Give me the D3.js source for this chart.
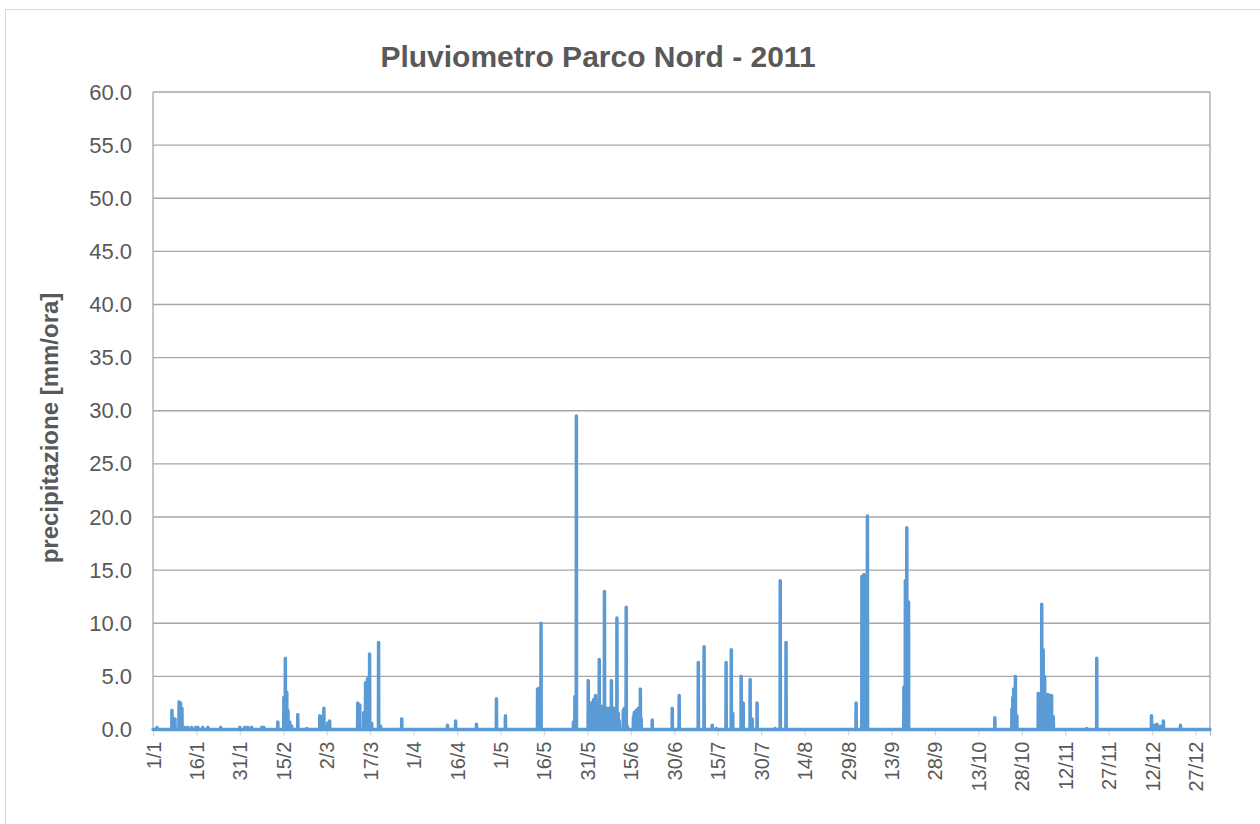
<!DOCTYPE html>
<html>
<head>
<meta charset="utf-8">
<script src="https://cdn.jsdelivr.net/npm/d3@7"></script>
<style>
  body { margin: 0; background: #fff; }
  svg { font-family: "Liberation Sans", Arial, sans-serif; }
</style>
</head>
<body>
<div id="chart"></div>
<script>
// rain events: day of year (0 = 1 Jan 2011) and mm/h peak
const rainDay = [
  1.4, 6.55, 6.9, 7.6, 9.0, 9.5, 10.0, 11.0, 12.1, 13.4, 14.8, 15.5, 17.2, 19.0, 23.4,
  30.0, 31.7, 32.8, 34.1, 37.6, 38.3, 43.1, 45.2, 45.7, 46.2, 46.6, 47.2, 47.9, 50.0, 53.1,
  57.6, 58.3, 59.0, 60.3, 61.0, 70.7, 71.4, 72.8, 73.4, 74.1, 74.8, 75.5, 77.9, 78.6, 85.9,
  101.7, 104.5, 111.7, 118.6, 121.7, 132.8, 133.4, 134.0, 145.2, 145.7, 146.2,
  150.3, 150.7, 151.0, 151.4, 152.1, 152.8, 153.4, 154.1, 154.8, 155.2, 155.9, 156.6, 157.2,
  157.6, 158.3, 159.0, 159.7, 160.2, 160.7, 161.0, 162.4, 162.8, 163.4, 163.8,
  165.9, 166.2, 166.9, 167.6, 168.3, 168.6, 172.4, 179.3, 181.7, 188.3, 190.3, 193.1, 194.5,
  197.9, 199.7, 200.2, 203.1, 203.8, 206.2, 206.9, 208.6, 214.8, 216.6, 218.6,
  242.8, 244.8, 245.5, 246.7, 259.3, 259.8, 260.3, 260.9, 290.7,
  296.6, 296.9, 297.2, 297.8, 298.3, 305.7, 306.9, 307.4, 307.9, 308.3, 309.0, 309.7, 310.3, 310.9,
  322.4, 325.9, 344.8, 345.9, 346.7, 347.9, 348.9, 354.8
];
const rainMm = [
  0.2, 1.8, 0.6, 1.0, 2.6, 2.5, 2.0, 0.2, 0.2, 0.2, 0.2, 0.2, 0.2, 0.2, 0.2,
  0.2, 0.2, 0.2, 0.2, 0.2, 0.2, 0.7, 3.0, 6.7, 3.5, 1.8, 0.7, 0.3, 1.4, 0.1,
  1.3, 1.2, 2.0, 0.6, 0.8, 2.5, 2.3, 1.6, 4.4, 4.8, 7.1, 0.6, 8.2, 0.3, 1.0,
  0.4, 0.8, 0.5, 2.9, 1.3, 3.8, 3.9, 10.0, 0.7, 3.1, 29.5,
  4.6, 0.5, 1.5, 2.5, 2.8, 3.2, 2.4, 6.6, 2.2, 2.0, 13.0, 2.0, 1.8,
  2.0, 4.6, 2.0, 1.8, 10.5, 1.5, 0.8, 1.8, 2.0, 11.5, 0.3,
  1.2, 1.6, 1.8, 2.0, 3.8, 1.0, 0.9, 2.0, 3.2, 6.3, 7.8, 0.4, 0.1,
  6.3, 7.5, 1.5, 5.0, 2.5, 4.7, 1.0, 2.5, 0.1, 14.0, 8.2,
  2.5, 14.4, 14.6, 20.1, 4.0, 14.0, 19.0, 12.0, 1.1,
  1.9, 3.0, 3.8, 5.0, 1.3, 3.4, 11.8, 7.5, 5.0, 3.3, 3.3, 3.2, 3.2, 1.2,
  0.1, 6.7, 1.3, 0.4, 0.5, 0.3, 0.8, 0.4
];
const tickLabels = ["1/1","16/1","31/1","15/2","2/3","17/3","1/4","16/4","1/5","16/5","31/5","15/6","30/6",
  "15/7","30/7","14/8","29/8","13/9","28/9","13/10","28/10","12/11","27/11","12/12","27/12"];
const yTicks = d3.range(0, 60.1, 5);

const W = 1260, H = 824;
const margin = { top: 92, right: 50, bottom: 95, left: 153 };
const width = 1210 - margin.left;
const height = 729.5 - margin.top;

const svg = d3.select('#chart').append('svg')
  .attr('width', W).attr('height', H);

// chart border
svg.append('rect')
  .attr('x', 5.5).attr('y', 9.5).attr('width', W - 4).attr('height', H)
  .attr('fill', 'none').attr('stroke', '#d9d9d9');

svg.append('text')
  .attr('x', 598).attr('y', 67)
  .attr('text-anchor', 'middle')
  .attr('font-size', '30px').attr('font-weight', 'bold')
  .attr('fill', '#595959')
  .text('Pluviometro Parco Nord - 2011');

const g = svg.append('g').attr('transform', `translate(${margin.left}, ${margin.top})`);

const x = d3.scaleLinear().domain([0, 365]).range([0, width]);
const y = d3.scaleLinear().domain([0, 60]).range([height, 0]);

// gridlines
g.selectAll('.grid')
  .data(yTicks)
  .enter().append('line')
  .attr('x1', 0).attr('x2', width)
  .attr('y1', d => y(d)).attr('y2', d => y(d))
  .attr('stroke', '#a6a6a6').attr('stroke-width', 1.3);

g.append('line').attr('x1', 0).attr('x2', 0).attr('y1', 0).attr('y2', height)
  .attr('stroke', '#a6a6a6').attr('stroke-width', 1.3);
g.append('line').attr('x1', width).attr('x2', width).attr('y1', 0).attr('y2', height)
  .attr('stroke', '#a6a6a6').attr('stroke-width', 1.3);

// Y axis
const yAxis = g.append('g')
  .call(d3.axisLeft(y).tickValues(yTicks).tickFormat(d3.format('.1f')).tickSize(0).tickPadding(21));
yAxis.select('.domain').remove();
yAxis.selectAll('text').attr('font-size', '22px').attr('fill', '#595959')
  .attr('font-family', '"Liberation Sans", Arial, sans-serif');

// X axis, one tick every 15 days
const xAxis = g.append('g')
  .attr('transform', `translate(0, ${height})`)
  .call(d3.axisBottom(x)
    .tickValues(tickLabels.map((d, i) => i * 15))
    .tickFormat((d, i) => tickLabels[i])
    .tickSize(6).tickPadding(6));
xAxis.select('.domain').attr('stroke', '#a6a6a6');
xAxis.selectAll('.tick line').attr('stroke', '#d9d9d9').attr('stroke-width', 1.3);
xAxis.selectAll('text')
  .attr('transform', 'rotate(-90)')
  .attr('x', -12).attr('y', 0).attr('dy', '0.35em')
  .style('text-anchor', 'end')
  .attr('font-size', '20px').attr('fill', '#595959')
  .attr('font-family', '"Liberation Sans", Arial, sans-serif');

// Y axis label
svg.append('text')
  .attr('transform', 'translate(58, 428) rotate(-90)')
  .attr('text-anchor', 'middle')
  .attr('font-size', '24px').attr('font-weight', 'bold')
  .attr('fill', '#595959')
  .text('precipitazione [mm/ora]');

// series: each reading rises from and falls back to zero
const series = [{ d: 0, v: 0 }];
rainDay.forEach((d, i) => {
  series.push({ d: d - 0.05, v: 0 });
  series.push({ d: d, v: rainMm[i] });
  series.push({ d: d + 0.05, v: 0 });
});
series.push({ d: 365, v: 0 });

const line = d3.line().x(p => x(p.d)).y(p => y(p.v));

g.append('path')
  .datum(series)
  .attr('d', line)
  .attr('fill', 'none')
  .attr('stroke', '#5b9bd5')
  .attr('stroke-width', 3.5)
  .attr('stroke-linejoin', 'round')
  .attr('stroke-linecap', 'round');
</script>
</body>
</html>
